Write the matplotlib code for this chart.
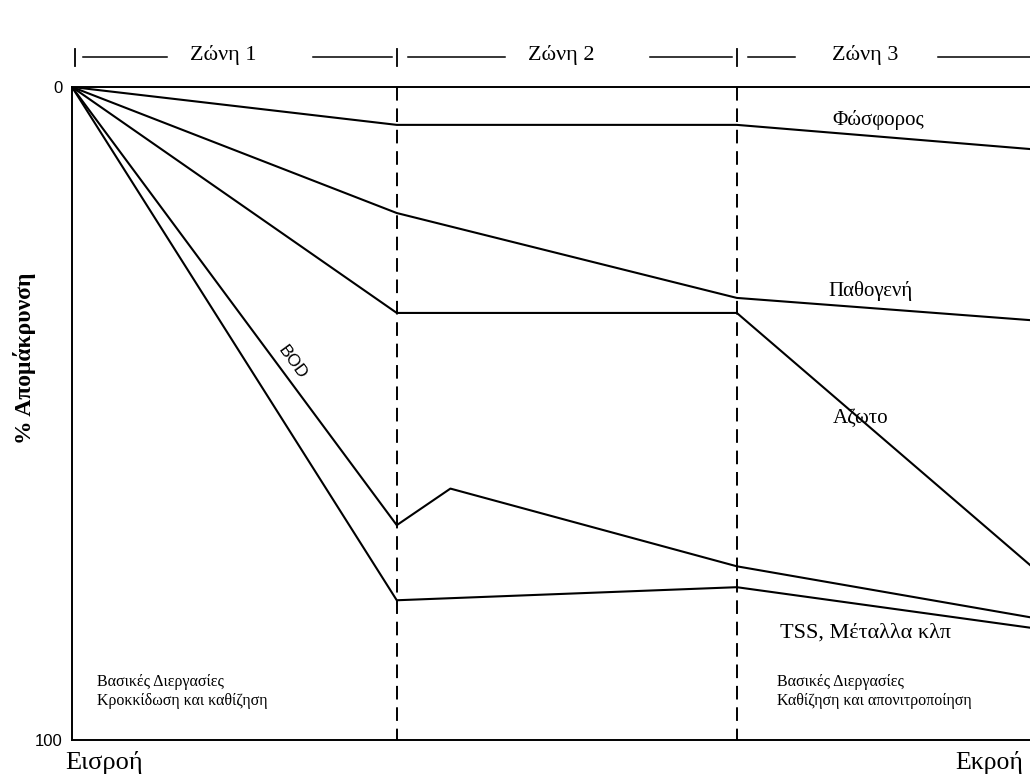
import matplotlib
matplotlib.use("Agg")
import matplotlib.pyplot as plt

# ==============================
# DATA (x: 0 = Εισροή, 100 = Εκροή ; y: % απομάκρυνση)
# ==============================
zone_bounds = [0, 33.9, 69.4, 100]
zone_labels = ["Ζώνη 1", "Ζώνη 2", "Ζώνη 3"]
zone_label_x = [15.8, 51.1, 82.8]
# where the header dashes stop/start around each zone label
head_gap_left = [9.9, 45.2, 75.5]
head_gap_right = [25.2, 60.3, 90.4]

x_std = [0, 33.9, 69.4, 100]
fosforos = [0, 5.8, 5.8, 9.5]
pathogeni = [0, 19.3, 32.3, 35.7]
azoto = [0, 34.6, 34.6, 73.2]
tss = [0, 78.6, 76.6, 82.8]
x_bod = [0, 33.9, 39.5, 69.4, 100]
bod = [0, 67.1, 61.5, 73.4, 81.2]

line_labels = ["Φώσφορος", "Παθογενή", "Αζωτο", "TSS, Μέταλλα κλπ"]
line_label_x = [79.4, 79.0, 79.4, 73.9]
line_label_y = [5.1, 31.3, 50.8, 83.6]
line_label_size = [15, 15, 15, 16]

SERIF = "Liberation Serif"
SANS = "Liberation Sans"

# ==============================
# FIGURE
# ==============================
fig = plt.figure(figsize=(10.3, 7.83), dpi=100)
ax = fig.add_axes([72 / 1030, 1 - 740 / 783, (1030 - 72) / 1030, (740 - 87) / 783])
ax.set_xlim(0, 100)
ax.set_ylim(100, 0)

for s in ["left", "top", "bottom"]:
    ax.spines[s].set_linewidth(1.4)
ax.spines["right"].set_visible(False)

ax.set_xticks([])
ax.set_yticks([0, 100])
ax.set_yticklabels(["0", "100"], fontfamily=SANS, fontsize=12)
ax.tick_params(axis="y", length=0, pad=7)

ax.set_ylabel("% Απομάκρυνση", fontfamily=SERIF, fontsize=17, fontweight="bold")
ax.yaxis.set_label_coords(-0.038, 0.585)

# ==============================
# ZONE DIVIDERS (dashed)
# ==============================
for xb in zone_bounds[1:-1]:
    ax.plot([xb, xb], [0, 100], color="black", lw=1.4,
            linestyle=(0, (7, 4)), zorder=2)

# zone header
y_head = -4.6
for i, lab in enumerate(zone_labels):
    left = zone_bounds[i] + 1.2
    right = zone_bounds[i + 1] - 0.5 if i < 2 else 100
    ax.plot([left, head_gap_left[i]], [y_head, y_head], color="black", lw=1.1, clip_on=False)
    ax.plot([head_gap_right[i], right], [y_head, y_head], color="black", lw=1.1, clip_on=False)
    ax.text(zone_label_x[i], y_head - 0.3, lab, fontfamily=SERIF, fontsize=16,
            ha="center", va="center", clip_on=False)
for xb in [0.3] + zone_bounds[1:-1]:
    ax.plot([xb, xb], [-5.8, -3.2], color="black", lw=1.3, clip_on=False)

# ==============================
# LINES
# ==============================
for series in [fosforos, pathogeni, azoto, tss]:
    ax.plot(x_std, series, color="black", lw=1.5, zorder=3)
ax.plot(x_bod, bod, color="black", lw=1.5, zorder=3)

for lab, lx, ly, fs in zip(line_labels, line_label_x, line_label_y, line_label_size):
    ax.text(lx, ly, lab, fontfamily=SERIF, fontsize=fs, ha="left", va="center")

ax.text(23.0, 42.2, "BOD", fontfamily=SANS, fontsize=12.5, rotation=-53.7,
        rotation_mode="anchor", ha="center", va="center")

# ==============================
# NOTES
# ==============================
ax.text(2.6, 92.6, "Βασικές Διεργασίες\nΚροκκίδωση και καθίζηση",
        fontfamily=SERIF, fontsize=11.5, ha="left", va="center", linespacing=1.25)
ax.text(73.6, 92.6, "Βασικές Διεργασίες\nΚαθίζηση και απονιτροποίηση",
        fontfamily=SERIF, fontsize=11.5, ha="left", va="center", linespacing=1.25)

ax.text(-0.7, 103.5, "Εισροή", fontfamily=SERIF, fontsize=19,
        ha="left", va="center", clip_on=False)
ax.text(99.3, 103.5, "Εκροή", fontfamily=SERIF, fontsize=18.5,
        ha="right", va="center", clip_on=False)

fig.savefig("out.png", dpi=100, facecolor="white")
